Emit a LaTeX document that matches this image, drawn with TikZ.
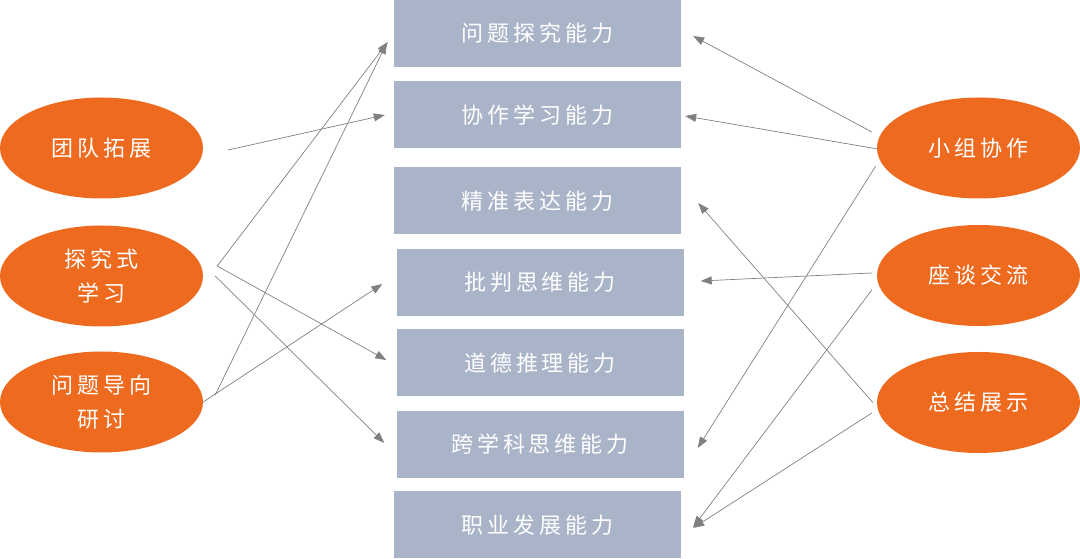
\documentclass[tikz,border=0pt]{standalone}
\usepackage{fontspec}
\setmainfont{Noto Sans CJK SC}
\newfontfamily\cjkfont[LetterSpace=18]{Noto Sans CJK SC}
\usetikzlibrary{arrows.meta,calc,shapes.geometric}
\definecolor{methodorange}{HTML}{EE6A1F}
\definecolor{abilityblue}{HTML}{AAB4C8}
\definecolor{linkgray}{HTML}{808080}
\begin{document}
\begin{tikzpicture}[x=1pt,y=1pt,
  ability/.style={fill=abilityblue,minimum width=287pt,minimum height=67pt,inner sep=0pt,
    text=white,font=\cjkfont\fontsize{22}{34}\selectfont},
  method/.style={ellipse,fill=methodorange,minimum width=203pt,minimum height=101pt,inner sep=0pt,
    text=white,align=center,font=\cjkfont\fontsize{22}{34}\selectfont},
  link/.style={draw=linkgray,line width=0.7pt,-{Triangle[length=11pt,width=8pt]}}]
\useasboundingbox (0,0) rectangle (1080,559);
% abilities
\node[ability] (tanjiu) at (537.5,525.5) {问题探究能力};
\node[ability] (xiezuo) at (537.5,444) {协作学习能力};
\node[ability] (biaoda) at (537.5,358) {精准表达能力};
\node[ability] (pipan) at (540,276.5) {批判思维能力};
\node[ability] (daode) at (540,196) {道德推理能力};
\node[ability] (kuaxue) at (540,114.5) {跨学科思维能力};
\node[ability] (zhiye) at (537.5,34) {职业发展能力};
% methods
\node[method] (tuandui) at (101.5,411) {团队拓展};
\node[method] (tjxx) at (101.5,283) {探究式\\学习};
\node[method] (wtdx) at (101.5,157) {问题导向\\研讨};
\node[method] (xiaozu) at (978.5,411) {小组协作};
\node[method] (zuotan) at (978.5,283.5) {座谈交流};
\node[method] (zongjie) at (978.5,156.5) {总结展示};
% links on the left
\draw[link] ($(tuandui.east)+(25,-2)$) -- ($(xiezuo.west)+(-9,0)$);
\draw[link] ($(tjxx.east)+(14,10)$) -- ($(tanjiu.west)+(-6,-8.5)$);
\draw[link] ($(tjxx.east)+(14,10)$) -- ($(daode.west)+(-10,3)$);
\draw[link] ($(tjxx.east)+(12,0)$) -- ($(kuaxue.west)+(-12,1.5)$);
\draw[link] (wtdx.east) -- ($(pipan.west)+(-14,-1.5)$);
\draw[link] ($(wtdx.east)+(12,7)$) -- ($(tanjiu.west)+(-7,-9.5)$);
% links on the right
\draw[link] ($(xiaozu.west)+(-5,16)$) -- ($(tanjiu.east)+(12,-2.5)$);
\draw[link] ($(xiaozu.west)+(1,-1)$) -- ($(xiezuo.east)+(4,-1)$);
\draw[link] ($(xiaozu.west)+(-1,-18)$) -- ($(kuaxue.east)+(14,-3.5)$);
\draw[link] ($(zuotan.west)+(-5,2.5)$) -- ($(pipan.east)+(17,1.5)$);
\draw[link] ($(zuotan.west)+(-5,-14.5)$) -- ($(zhiye.east)+(12,-2)$);
\draw[link] ($(zongjie.west)+(-4,0)$) -- ($(biaoda.east)+(17,-2)$);
\draw[link] ($(zongjie.west)+(-5,-10.5)$) -- ($(zhiye.east)+(12,-3)$);
\end{tikzpicture}
\end{document}
